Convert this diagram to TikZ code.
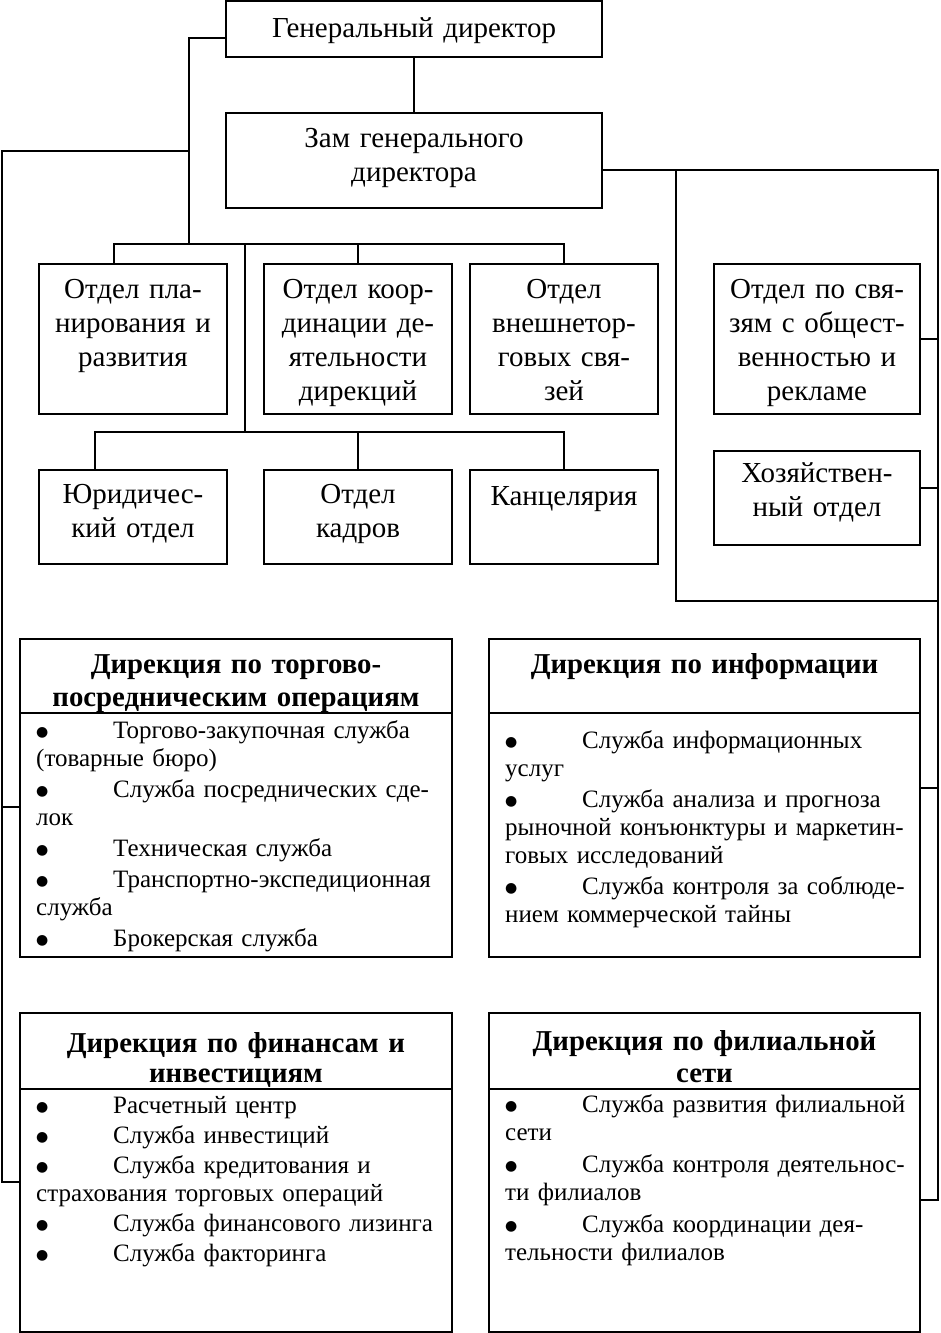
\documentclass[tikz,border=0pt]{standalone}
\usepackage{fontspec}
\setmainfont{Liberation Serif}
\newfontfamily\dotfont{DejaVu Sans}
\usetikzlibrary{positioning,calc}
\tikzstyle{unit} = [draw,line width=2pt,anchor=north west,inner sep=0,outer sep=0]
\tikzstyle{title} = [anchor=base,align=center,inner sep=0,text width=360pt,font=\fontsize{29}{34}\selectfont]
\tikzstyle{head} = [anchor=base,align=center,inner sep=0,text width=420pt,font=\bfseries\fontsize{28.8}{33}\selectfont]
\tikzstyle{tasks} = [anchor=base west,align=left,inner sep=0,text width=420pt,font=\fontsize{25}{28}\selectfont]
\tikzstyle{link} = [line width=2pt]
\tikzstyle{sepline} = [line width=1.5pt]
\newcommand{\bul}{\makebox[77pt][l]{\raisebox{1.5pt}{\dotfont\fontsize{14}{16}\selectfont ●}}}

\begin{document}
\begin{tikzpicture}[x=1pt,y=-1pt]
		\useasboundingbox (0,0) rectangle (940,1333);
		\node[unit,minimum width=376pt,minimum height=56pt] (gd) at (226,1) {};
		\node[unit,minimum width=376pt,minimum height=95pt] (zam) at (226,113) {};
		\node[unit,minimum width=188pt,minimum height=150pt] (plan) at (39,264) {};
		\node[unit,minimum width=188pt,minimum height=150pt] (coord) at (264,264) {};
		\node[unit,minimum width=188pt,minimum height=150pt] (foreign) at (470,264) {};
		\node[unit,minimum width=206pt,minimum height=150pt] (pr) at (714,264) {};
		\node[unit,minimum width=188pt,minimum height=94pt] (legal) at (39,470) {};
		\node[unit,minimum width=188pt,minimum height=94pt] (staff) at (264,470) {};
		\node[unit,minimum width=188pt,minimum height=94pt] (office) at (470,470) {};
		\node[unit,minimum width=206pt,minimum height=94pt] (eco) at (714,451) {};
		\node[unit,minimum width=432pt,minimum height=318pt] (trade) at (20,639) {};
		\node[unit,minimum width=431pt,minimum height=318pt] (info) at (489,639) {};
		\node[unit,minimum width=432pt,minimum height=319pt] (fin) at (20,1013) {};
		\node[unit,minimum width=431pt,minimum height=319pt] (filial) at (489,1013) {};

		\draw[sepline] ([yshift=-74pt]trade.north west) -- ([yshift=-74pt]trade.north east);
		\draw[sepline] ([yshift=-74pt]info.north west) -- ([yshift=-74pt]info.north east);
		\draw[sepline] ([yshift=-76pt]fin.north west) -- ([yshift=-76pt]fin.north east);
		\draw[sepline] ([yshift=-76pt]filial.north west) -- ([yshift=-76pt]filial.north east);

		\node[title] (gd-t) at ([yshift=-36pt]gd.north) {Генеральный директор};
		\node[title] (zam-t) at ([yshift=-34pt]zam.north) {Зам генерального\\директора};
		\node[title] (plan-t) at ([yshift=-34pt]plan.north) {Отдел пла-\\нирования и\\развития};
		\node[title] (coord-t) at ([yshift=-34pt]coord.north) {Отдел коор-\\динации де-\\ятельности\\дирекций};
		\node[title] (foreign-t) at ([yshift=-34pt]foreign.north) {Отдел\\внешнетор-\\говых свя-\\зей};
		\node[title] (pr-t) at ([yshift=-34pt]pr.north) {Отдел по свя-\\зям с общест-\\венностью и\\рекламе};
		\node[title] (legal-t) at ([yshift=-33pt]legal.north) {Юридичес-\\кий отдел};
		\node[title] (staff-t) at ([yshift=-33pt]staff.north) {Отдел\\кадров};
		\node[title] (office-t) at ([yshift=-35pt]office.north) {Канцелярия};
		\node[title] (eco-t) at ([yshift=-31pt]eco.north) {Хозяйствен-\\ный отдел};

		\node[head] (trade-h) at ([yshift=-34pt]trade.north) {Дирекция по торгово-\\посредническим операциям};
		\node[head] (info-h) at ([yshift=-34pt]info.north) {Дирекция по информации};
		\node[head,font=\bfseries\fontsize{28.8}{30}\selectfont] (fin-h) at ([yshift=-39pt]fin.north) {Дирекция по финансам и\\инвестициям};
		\node[head,font=\bfseries\fontsize{28.8}{32}\selectfont] (filial-h) at ([yshift=-37pt]filial.north) {Дирекция по филиальной\\сети};

		\node[tasks] (trade-l) at ([xshift=16pt,yshift=-99pt]trade.north west) {\bul Торгово-закупочная служба\\
			(товарные бюро)\\[3pt]
			\bul Служба посреднических сде-\\
			лок\\[3pt]
			\bul Техническая служба\\[3pt]
			\bul Транспортно-экспедиционная\\
			служба\\[3pt]
			\bul Брокерская служба};
		\node[tasks] (info-l) at ([xshift=16pt,yshift=-109pt]info.north west) {\bul Служба информационных\\
			услуг\\[3pt]
			\bul Служба анализа и прогноза\\
			рыночной конъюнктуры и маркетин-\\
			говых исследований\\[3pt]
			\bul Служба контроля за соблюде-\\
			нием коммерческой тайны};
		\node[tasks] (fin-l) at ([xshift=16pt,yshift=-100pt]fin.north west) {\bul Расчетный центр\\[2pt]
			\bul Служба инвестиций\\[2pt]
			\bul Служба кредитования и\\
			страхования торговых операций\\[2pt]
			\bul Служба финансового лизинга\\[2pt]
			\bul Служба факторинга};
		\node[tasks] (filial-l) at ([xshift=16pt,yshift=-99pt]filial.north west) {\bul Служба развития филиальной\\
			сети\\[4pt]
			\bul Служба контроля деятельнос-\\
			ти филиалов\\[4pt]
			\bul Служба координации дея-\\
			тельности филиалов};

		\coordinate (up) at (189,244);
		\coordinate (lt) at (189,151);
		\coordinate (ll) at (2,151);
		\coordinate (mid) at (245,244);
		\coordinate (lo) at (245,432);
		\coordinate (rt) at (938,170);
		\coordinate (rm) at (676,170);

		\draw[link] (gd.south) to (zam.north);
		\draw[link] ([yshift=-9pt]gd.west) -| (up);
		\draw[link] ([xshift=-19pt]plan.north) |- (up) -| (foreign.north);
		\draw[link] (coord.north) to (coord.north |- up);
		\draw[link] (mid) to (lo);
		\draw[link] ([xshift=-38pt]legal.north) |- (lo) -| (office.north);
		\draw[link] (staff.north) to (staff.north |- lo);

		\draw[link] (lt) -- (ll) |- ([yshift=-9.5pt]fin.west);
		\draw[link] ([yshift=-9pt]trade.west) -| (ll);

		\draw[link] ([yshift=-9.5pt]zam.east) -- (rt) |- ([yshift=-27.5pt]filial.east);
		\draw[link] (pr.east) -| (rt);
		\draw[link] ([yshift=10pt]eco.east) -| (rt);
		\draw[link] ([yshift=10pt]info.east) -| (rt);
		\draw[link] (rm) -- ++(0,431) -| (rt);
	\end{tikzpicture}
\end{document}
